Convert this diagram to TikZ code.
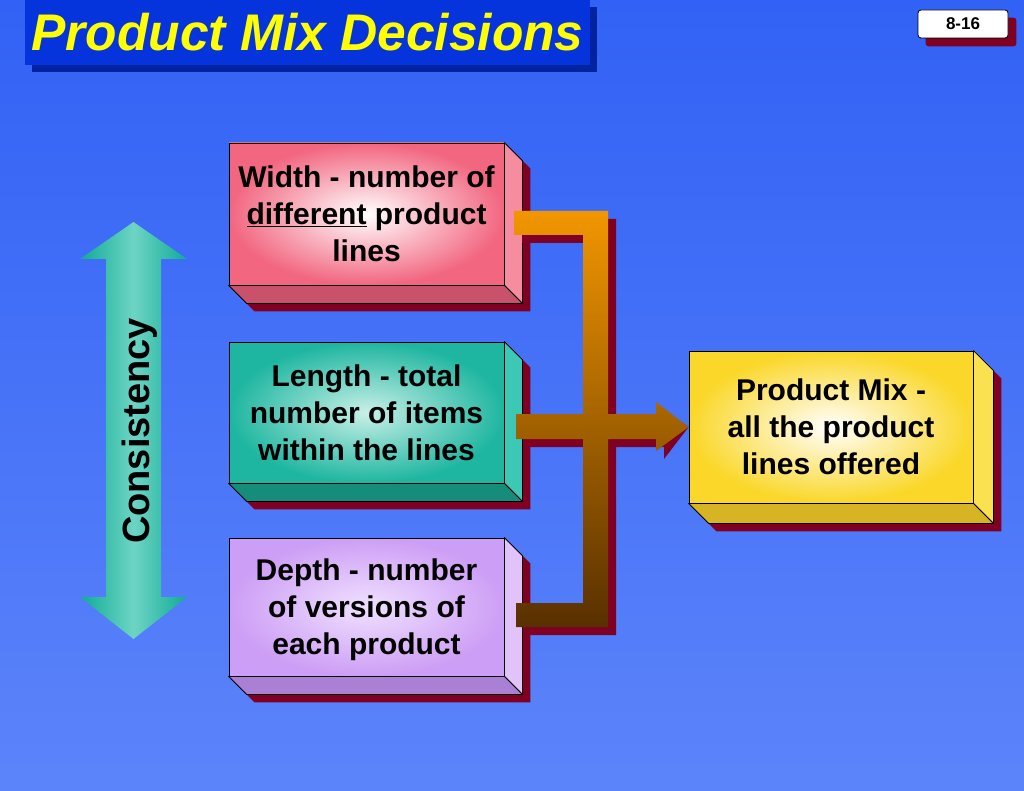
\documentclass[tikz,border=0pt]{standalone}
\usepackage{fontspec}
\setmainfont{Liberation Sans}
\usetikzlibrary{calc,backgrounds}
\pgfdeclarelayer{bg}
\pgfsetlayers{bg,background,main}
\definecolor{bgtop}{RGB}{50,98,245}
\definecolor{bgbot}{RGB}{92,132,250}
\definecolor{titlebox}{RGB}{5,52,220}
\definecolor{titleshadow}{RGB}{0,35,160}
\definecolor{shadowred}{RGB}{128,0,36}
\definecolor{pinkO}{RGB}{242,102,128}
\definecolor{pinkSide}{RGB}{246,140,160}
\definecolor{pinkBot}{RGB}{200,82,108}
\definecolor{tealO}{RGB}{30,182,160}
\definecolor{tealIn}{RGB}{200,240,232}
\definecolor{tealSide}{RGB}{60,200,180}
\definecolor{tealBot}{RGB}{22,140,122}
\definecolor{lavO}{RGB}{205,158,245}
\definecolor{lavIn}{RGB}{240,225,255}
\definecolor{lavSide}{RGB}{225,195,250}
\definecolor{lavBot}{RGB}{170,128,212}
\definecolor{yelO}{RGB}{250,215,40}
\definecolor{yelSide}{RGB}{250,225,80}
\definecolor{yelBot}{RGB}{215,180,35}
\definecolor{orangeTop}{RGB}{242,150,0}
\definecolor{orangeMid}{RGB}{190,118,0}
\definecolor{brownBot}{RGB}{88,48,0}
\definecolor{arrowEdge}{RGB}{15,172,150}
\definecolor{arrowMid}{RGB}{110,212,196}
\definecolor{titletxt}{RGB}{255,255,0}
\newcommand\extrude[4]{%
\begin{pgfonlayer}{background}
\fill[shadowred] ($(#1.north west)+(8,8)$) -- ($(#1.north east)+(8,8)$) -- ($(#1.north east)+(#4+8,#4+8)$) -- ($(#1.south east)+(#4+8,#4+8)$) -- ($(#1.south west)+(#4+8,#4+8)$) -- ($(#1.south west)+(8,8)$) -- cycle;
\filldraw[sideface, fill=#2] (#1.north east) -- ($(#1.north east)+(#4,#4)$) -- ($(#1.south east)+(#4,#4)$) -- (#1.south east) -- cycle;
\filldraw[sideface, fill=#3] (#1.south west) -- (#1.south east) -- ($(#1.south east)+(#4,#4)$) -- ($(#1.south west)+(#4,#4)$) -- cycle;
\end{pgfonlayer}}
\newcommand\connshape{(514,211) rectangle (608,235) (583,211) rectangle (608,627) (516,603) rectangle (608,627) (516,414) -- (516,439) -- (656,439) -- (656,451) -- (\x1,\y1) -- (656,402) -- (656,414) -- cycle}
\begin{document}
\begin{tikzpicture}[x=1pt,y=-1pt,
  face/.style={draw=black, line width=0.8pt, inner sep=0pt, align=center, font=\fontsize{30}{37}\selectfont\bfseries, text depth=0pt},
  sideface/.style={draw=black, line width=0.8pt, line join=round}]
\useasboundingbox (0,0) rectangle (1024,791);
\begin{pgfonlayer}{bg}
\fill[top color=bgtop, bottom color=bgbot] (0,0) rectangle (1024,791);
\end{pgfonlayer}
% title
\node[fill=titlebox, text=titletxt, minimum width=565, minimum height=65, inner sep=0pt, font=\fontsize{51.5}{60}\selectfont\bfseries\itshape] (title) at (307.5,32.5) {Product Mix Decisions};
\begin{pgfonlayer}{background}
\fill[titleshadow] ($(title.north west)+(7,7)$) rectangle ($(title.south east)+(7,7)$);
\end{pgfonlayer}
% page number
\node[fill=white, draw=black, line width=0.8pt, rounded corners=3pt, minimum width=90, minimum height=28, inner sep=0pt, font=\fontsize{17}{20}\selectfont\bfseries] (page) at (963,24) {8-16};
\begin{pgfonlayer}{background}
\fill[shadowred, rounded corners=3pt] ($(page.north west)+(8,8)$) rectangle ($(page.south east)+(8,8)$);
\end{pgfonlayer}
% boxes
\node[face, inner color=white, outer color=pinkO, minimum width=275, minimum height=142] (width) at (366.5,214) {Width - number of\\\underline{different} product\\lines};
\node[face, inner color=tealIn, outer color=tealO, minimum width=275, minimum height=141] (length) at (366.5,412.5) {Length - total\\number of items\\within the lines};
\node[face, inner color=lavIn, outer color=lavO, minimum width=275, minimum height=138] (depth) at (366.5,607) {Depth - number\\of versions of\\each product};
\node[face, inner color=white, outer color=yelO, minimum width=284, minimum height=152] (mix) at (831,427) {Product Mix -\\all the product\\lines offered};
\extrude{width}{pinkSide}{pinkBot}{18}
\extrude{length}{tealSide}{tealBot}{18}
\extrude{depth}{lavSide}{lavBot}{18}
\extrude{mix}{yelSide}{yelBot}{20}
% connector
\begin{pgfonlayer}{background}
\path[fill=shadowred, shift={(8,8)}] let \p1=(mix.west) in \connshape;
\path[top color=orangeTop, middle color=orangeMid, bottom color=brownBot] let \p1=(mix.west) in \connshape;
\end{pgfonlayer}
% consistency arrow
\begin{pgfonlayer}{background}
\path[left color=arrowEdge, right color=arrowEdge, middle color=arrowMid]
  (133.5,222) -- (187,259) -- (161,259) -- (161,597) -- (187,597) -- (133.5,639) -- (80,597) -- (106,597) -- (106,259) -- (80,259) -- cycle;
\end{pgfonlayer}
\node[rotate=90, font=\fontsize{38}{44}\selectfont\bfseries, inner sep=0pt] (consistency) at (140,431) {Consistency};
\end{tikzpicture}
\end{document}
